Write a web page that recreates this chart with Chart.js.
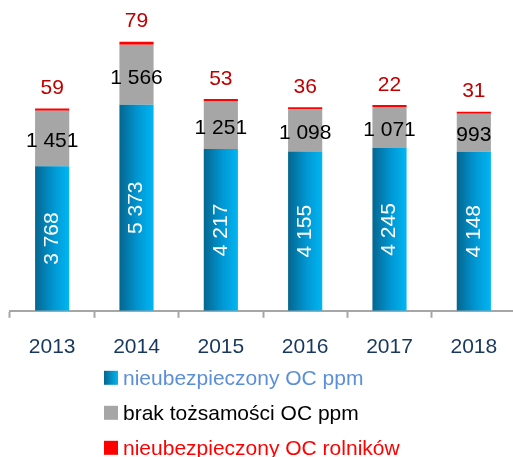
<!DOCTYPE html>
<html>
<head>
<meta charset="utf-8">
<script src="https://cdn.jsdelivr.net/npm/chart.js@4/dist/chart.umd.min.js"></script>
<style>
  html, body { margin: 0; padding: 0; background: #fff; overflow: hidden; }
  #wrap { width: 516px; height: 457px; }
</style>
</head>
<body>
<div id="wrap"><canvas id="myChart"></canvas></div>
<script>
const years = ["2013", "2014", "2015", "2016", "2017", "2018"]
const ppm = [3768, 5373, 4217, 4155, 4245, 4148]
const brak = [1451, 1566, 1251, 1098, 1071, 993]
const rolnikow = [59, 79, 53, 36, 22, 31]
const legendNames = ["nieubezpieczony OC ppm", "brak tożsamości OC ppm", "nieubezpieczony OC rolników"]

const FONT = "'Liberation Sans', Arial, sans-serif"
const BAR_PCT = 0.405

function fmt(v) {
    return String(v).replace(/\B(?=(\d{3})+(?!\d))/g, " ")
}

// horizontal gradient for the blue bars, built from the x scale
function blueFill(ctx) {
    const chart = ctx.chart
    const xs = chart.scales.x
    if (!chart.chartArea || !xs || ctx.dataIndex == null) return "#0095d0"
    const w = xs.width / years.length * BAR_PCT
    const x0 = xs.getPixelForValue(ctx.dataIndex) - w / 2
    const g = chart.ctx.createLinearGradient(x0, 0, x0 + w, 0)
    g.addColorStop(0, "#05668f")
    g.addColorStop(0.55, "#0098d4")
    g.addColorStop(1, "#00b6f2")
    return g
}

const labelPlugin = {
    id: "labels",
    afterDatasetsDraw(chart) {
        const c = chart.ctx
        const m0 = chart.getDatasetMeta(0)
        const m1 = chart.getDatasetMeta(1)
        const m2 = chart.getDatasetMeta(2)
        c.save()
        c.textAlign = "center"
        c.textBaseline = "middle"
        c.font = "21px " + FONT
        m0.data.forEach((bar, i) => {
            c.save()
            c.translate(bar.x, (bar.y + bar.base) / 2)
            c.rotate(-Math.PI / 2)
            c.fillStyle = "#ffffff"
            c.fillText(fmt(ppm[i]), 0, 0)
            c.restore()
            const b1 = m1.data[i]
            c.fillStyle = "#000000"
            c.fillText(fmt(brak[i]), b1.x, (b1.y + b1.base) / 2 + 3)
            const b2 = m2.data[i]
            c.fillStyle = "#c00000"
            c.fillText(fmt(rolnikow[i]), b2.x, b2.y - 20)
        })
        c.restore()
    },
    afterDraw(chart) {
        const c = chart.ctx
        const top = chart.chartArea.bottom
        const cols = ["#0098d4", "#a6a6a6", "#ff0000"]
        const textCols = ["#5b8fd9", "#000000", "#ff0000"]
        c.save()
        c.font = "21px " + FONT
        c.textBaseline = "middle"
        legendNames.forEach((name, i) => {
            const y = top + 67 + i * 35
            if (i == 0) {
                const g = c.createLinearGradient(104, 0, 118, 0)
                g.addColorStop(0, "#05668f")
                g.addColorStop(1, "#00b6f2")
                c.fillStyle = g
            } else {
                c.fillStyle = cols[i]
            }
            c.fillRect(104, y - 7, 14, 14)
            c.fillStyle = textCols[i]
            c.fillText(name, 123, y + 1)
        })
        c.restore()
    }
}

new Chart("myChart", {
    type: "bar",
    data: {
        labels: years,
        datasets: [{
            label: legendNames[0],
            data: ppm,
            backgroundColor: blueFill
        }, {
            label: legendNames[1],
            data: brak,
            backgroundColor: "#a6a6a6"
        }, {
            label: legendNames[2],
            data: rolnikow,
            backgroundColor: "#ff0000",
            minBarLength: 2
        }]
    },
    options: {
        responsive: true,
        maintainAspectRatio: false,
        animation: false,
        datasets: {
            bar: { categoryPercentage: 1, barPercentage: BAR_PCT, borderWidth: 0 }
        },
        layout: { padding: { top: 4, left: 10, right: 0, bottom: 80 } },
        plugins: {
            legend: { display: false },
            tooltip: { enabled: false }
        },
        scales: {
            x: {
                stacked: true,
                grid: {
                    drawOnChartArea: false,
                    drawTicks: true,
                    tickLength: 7,
                    tickColor: "#a6a6a6",
                    tickWidth: 2,
                    offset: true
                },
                border: { color: "#a6a6a6", width: 2 },
                ticks: {
                    color: "#17375e",
                    font: { family: FONT, size: 21 },
                    padding: 17
                }
            },
            y: {
                stacked: true,
                display: false,
                min: 0,
                max: 8000
            }
        }
    },
    plugins: [labelPlugin]
})
</script>
</body>
</html>
